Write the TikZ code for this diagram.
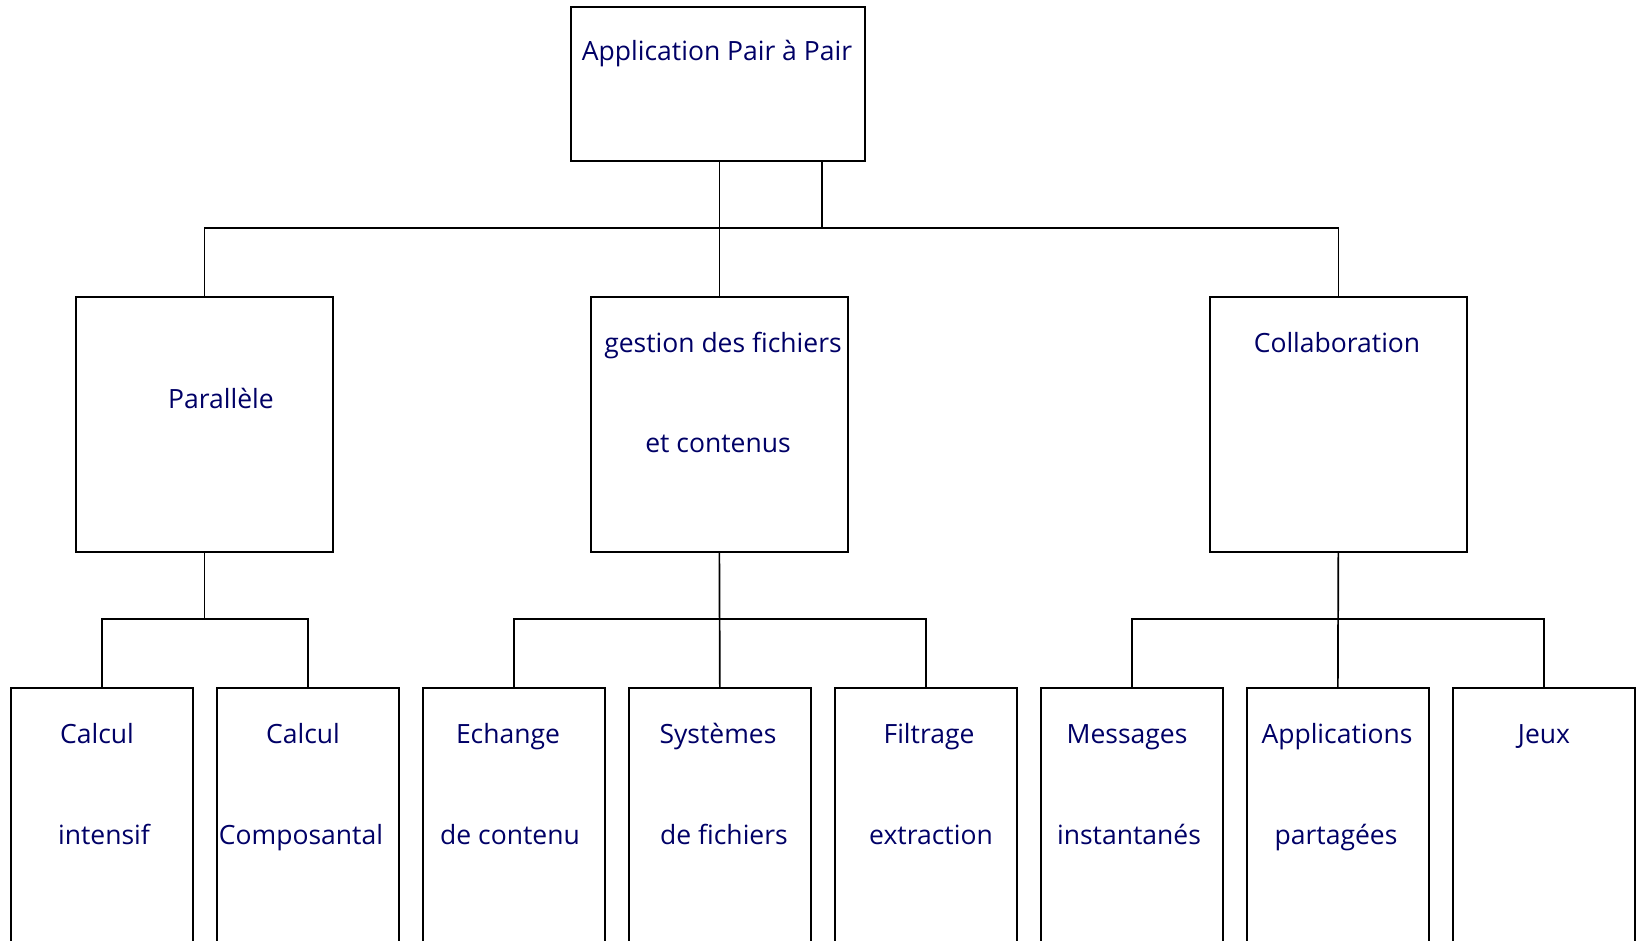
\documentclass[tikz,border=0pt]{standalone}
\usepackage{fontspec}
\setmainfont{Open Sans}
\definecolor{ink}{RGB}{0,0,102}
\begin{document}
\begin{tikzpicture}[x=1pt,y=-1pt,
  box/.style={draw=black, line width=1.7pt, rectangle, inner sep=0pt, anchor=north west},
  topbox/.style={box, minimum width=294, minimum height=154},
  midbox/.style={box, minimum width=257, minimum height=255},
  leafbox/.style={box, minimum width=182, minimum height=300},
  lbl/.style={text=ink, font=\fontsize{26.5}{30}\selectfont, inner sep=0pt,
              text height=20pt, text depth=0pt},
  wire/.style={line width=1.7pt, draw=black}
]
\useasboundingbox (0,0) rectangle (1638,941);
\clip (0,0) rectangle (1638,941);

% root
\node[topbox] (app) at (570,6) {};
\node[lbl] (appT) at (717,51) {Application Pair à Pair};

% second level
\node[midbox] (par) at (75,296) {};
\node[midbox] (ges) at (590,296) {};
\node[midbox] (col) at (1209,296) {};
\node[lbl] (parT) at (221,398) {Parallèle};
\node[lbl] (gesT1) at (723,342) {gestion des fichiers};
\node[lbl] (gesT2) at (718,442) {et contenus};
\node[lbl] (colT) at (1337,342) {Collaboration};

% leaves
\node[leafbox] (l1) at (10,687) {};
\node[leafbox] (l2) at (216,687) {};
\node[leafbox] (l3) at (422,687) {};
\node[leafbox] (l4) at (628,687) {};
\node[leafbox] (l5) at (834,687) {};
\node[leafbox] (l6) at (1040,687) {};
\node[leafbox] (l7) at (1246,687) {};
\node[leafbox] (l8) at (1452,687) {};

\node[lbl] (l1a) at (97,733) {Calcul};
\node[lbl] (l1b) at (104,834) {intensif};
\node[lbl] (l2a) at (303,733) {Calcul};
\node[lbl] (l2b) at (301,834) {Composantal};
\node[lbl] (l3a) at (508,733) {Echange};
\node[lbl] (l3b) at (510,834) {de contenu};
\node[lbl] (l4a) at (718,733) {Systèmes};
\node[lbl] (l4b) at (724,834) {de fichiers};
\node[lbl] (l5a) at (929,733) {Filtrage};
\node[lbl] (l5b) at (931,834) {extraction};
\node[lbl] (l6a) at (1127,733) {Messages};
\node[lbl] (l6b) at (1129,834) {instantanés};
\node[lbl] (l7a) at (1337,733) {Applications};
\node[lbl] (l7b) at (1336,834) {partagées};
\node[lbl] (l8a) at (1544,733) {Jeux};

% bus levels
\coordinate (bus0) at (0,228);
\coordinate (tap) at (822,228);
\coordinate (bus1) at (0,619);

% root to second level
\draw[wire] (par.north) -- (par.north |- bus0) -- (col.north |- bus0) -- (col.north);
\draw[wire] (app.south -| ges.north) -- (ges.north);
\draw[wire] (app.south -| tap) -- (tap);

% second level to leaves
\draw[wire] (par.south) -- (par.south |- bus1);
\draw[wire] (l1.north) -- (l1.north |- bus1) -- (l2.north |- bus1) -- (l2.north);
\draw[wire] (ges.south) -- (l4.north);
\draw[wire] (l3.north) -- (l3.north |- bus1) -- (l5.north |- bus1) -- (l5.north);
\draw[wire] (col.south) -- (l7.north);
\draw[wire] (l6.north) -- (l6.north |- bus1) -- (l8.north |- bus1) -- (l8.north);
\end{tikzpicture}
\end{document}
